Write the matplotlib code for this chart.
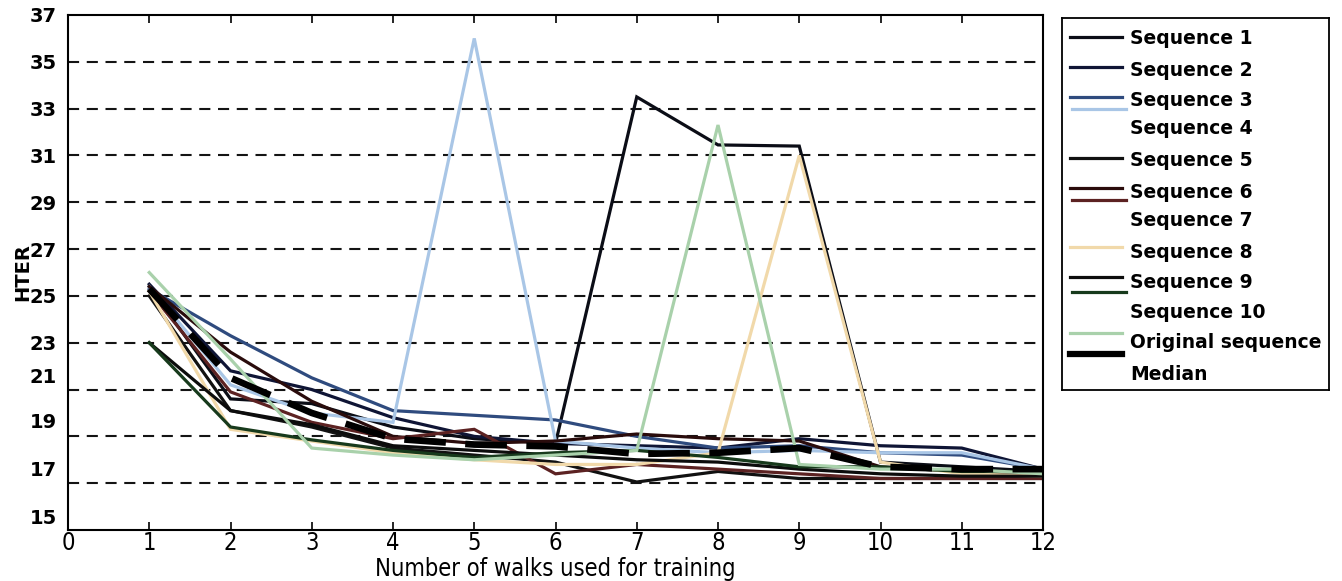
import matplotlib
matplotlib.use("Agg")
import matplotlib.pyplot as plt
import matplotlib.transforms as mtransforms
from matplotlib.lines import Line2D
from matplotlib import font_manager as fm

plt.rcParams['font.family'] = ['DejaVu Sans']
plt.rcParams['lines.scale_dashes'] = False

walks = [1, 2, 3, 4, 5, 6, 7, 8, 9, 10, 11, 12]

seq1 = [25.4, 20.6, 20.4, 19.4, 18.9, 18.7, 33.5, 31.45, 31.4, 17.9, 17.7, 17.5]
seq2 = [25.5, 21.8, 21.0, 19.8, 19.0, 18.7, 18.6, 18.5, 18.9, 18.6, 18.5, 17.6]
seq3 = [25.3, 23.3, 21.5, 20.1, 19.9, 19.7, 19.0, 18.5, 18.6, 18.3, 18.2, 17.6]
seq4 = [25.4, 21.2, 20.0, 19.6, 36.0, 18.8, 18.5, 18.3, 18.4, 18.3, 18.3, 17.6]
seq5 = [25.0, 20.1, 19.4, 18.5, 18.2, 17.9, 17.05, 17.5, 17.2, 17.2, 17.2, 17.2]
seq6 = [25.4, 22.6, 20.5, 19.0, 18.7, 18.8, 19.1, 18.9, 18.8, 17.7, 17.5, 17.4]
seq7 = [25.2, 20.9, 19.6, 18.9, 19.3, 17.4, 17.8, 17.6, 17.4, 17.2, 17.2, 17.2]
seq8 = [25.2, 19.3, 18.8, 18.3, 18.0, 17.8, 17.8, 18.3, 31.0, 17.9, 17.4, 17.3]
seq9 = [23.0, 20.1, 19.5, 18.6, 18.4, 18.2, 18.0, 17.9, 17.6, 17.4, 17.3, 17.3]
seq10 = [23.0, 19.4, 18.85, 18.4, 18.1, 18.3, 18.4, 18.1, 17.7, 17.7, 17.5, 17.5]
original = [26.0, 22.3, 18.5, 18.2, 18.0, 18.2, 18.4, 32.3, 17.8, 17.6, 17.6, 17.4]
median = [25.3, 21.5, 20.0, 18.9, 18.65, 18.57, 18.25, 18.3, 18.5, 17.7, 17.6, 17.6]

labels = ['Sequence 1', 'Sequence 2', 'Sequence 3', 'Sequence 4', 'Sequence 5',
          'Sequence 6', 'Sequence 7', 'Sequence 8', 'Sequence 9', 'Sequence 10',
          'Original sequence', 'Median']
series = [seq1, seq2, seq3, seq4, seq5, seq6, seq7, seq8, seq9, seq10, original, median]
colors = ['#0b0d16', '#0f1535', '#2f4b7e', '#a9c6e6', '#111111', '#2a0c0c',
          '#5c2222', '#f1d9aa', '#0c0c0c', '#173a1c', '#a9d1ab', '#000000']
widths = [2.3] * 11 + [4.8]

y_ticks = [15, 17, 19, 21, 23, 25, 27, 29, 31, 33, 35, 37]
x_ticks = list(range(0, 13))

# narrow font for the x axis texts
names = {f.name for f in fm.fontManager.ttflist}
if 'Liberation Sans Narrow' in names:
    narrow = dict(family='Liberation Sans Narrow')
    nscale = 1.0
else:
    cond = [f for f in fm.fontManager.ttflist
            if f.name == 'DejaVu Sans' and 'condensed' in str(f.stretch)]
    if cond:
        narrow = dict(family='DejaVu Sans', stretch='condensed')
        nscale = 0.85
    else:
        narrow = dict(family='Liberation Sans')
        nscale = 0.85

fig = plt.figure(figsize=(13.42, 5.81), dpi=100)
ax = fig.add_axes([68 / 1342, 1 - 530 / 581, (1043 - 68) / 1342, (530 - 15) / 581])

for yv in y_ticks[1:-1]:
    ax.axhline(yv, color='#141414', lw=1.5, dashes=(8, 5.5), zorder=1)

for s, c, w in zip(series[:-1], colors[:-1], widths[:-1]):
    ax.plot(walks, s, color=c, lw=w, solid_joinstyle='miter', zorder=2)
ax.plot(walks, median, color=colors[-1], lw=widths[-1], dashes=(30, 14), zorder=3)

ax.set_xlim(0, 12)
ax.set_ylim(15.15, 37)
ax.set_xticks(x_ticks)
ax.set_yticks(y_ticks)
ax.tick_params(axis='x', direction='in', length=6, width=1.2, top=True, pad=1)
ax.tick_params(axis='y', direction='in', length=0, pad=8)
for lab in ax.get_xticklabels():
    lab.set_fontproperties(fm.FontProperties(size=20 * nscale, **narrow))
for lab in ax.get_yticklabels():
    lab.set_fontproperties(fm.FontProperties(family='DejaVu Sans', weight='bold', size=14))
for sp in ax.spines.values():
    sp.set_linewidth(1.5)

shift = {21: 14, 19: 16, 17: 15, 15: 14}
for tick, val in zip(ax.yaxis.get_major_ticks(), y_ticks):
    if val in shift:
        off = mtransforms.ScaledTranslation(0, shift[val] / 100, fig.dpi_scale_trans)
        tick.label1.set_transform(tick.label1.get_transform() + off)

ax.set_xlabel('Number of walks used for training',
              fontproperties=fm.FontProperties(size=20 * nscale, **narrow), labelpad=1)
ax.set_ylabel('HTER', fontsize=14, fontweight='bold', labelpad=-2)

# legend panel (pixel coordinates)
lg = fig.add_axes([1062 / 1342, 1 - 390 / 581, (1329 - 1062) / 1342, (390 - 18) / 581])
lg.set_xlim(1062, 1329)
lg.set_ylim(390, 18)
lg.set_xticks([])
lg.set_yticks([])
for sp in lg.spines.values():
    sp.set_linewidth(1.3)
handle_y = [37, 67, 97, 109, 158, 188, 200, 247, 277, 292, 333, 354]
text_y = [39, 70, 100, 129, 161, 192, 221, 253, 283, 312, 343, 374]
for i in range(12):
    x0, x1 = (1070, 1122) if i not in (3, 6, 9) else (1072, 1126)
    lg.add_line(Line2D([x0, x1], [handle_y[i], handle_y[i]], color=colors[i],
                       lw=widths[i] if i < 11 else 4.5))
    lg.text(1130, text_y[i], labels[i], fontsize=13.5, fontweight='bold',
            va='center', ha='left')

fig.savefig('out.png', dpi=100)
